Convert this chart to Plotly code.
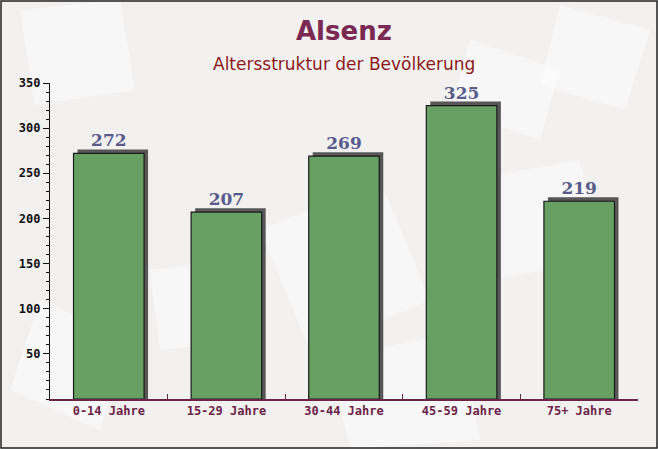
import plotly.graph_objects as go

# Daten
kategorien = ['0-14 Jahre', '15-29 Jahre', '30-44 Jahre', '45-59 Jahre', '75+ Jahre']
einwohner = [272, 207, 269, 325, 219]
y_ticks = [50, 100, 150, 200, 250, 300, 350]

BAR_GREEN = '#67a062'
SHADOW = '#575757'
LABEL_COLOR = '#575c8c'
MAROON = '#6b2447'

# 3D-Effekt: Schatten leicht nach rechts/oben versetzt
dx = 0.034
dy = 4.4

fig = go.Figure()
fig.add_trace(go.Bar(
    x=kategorien, y=[v + dy for v in einwohner],
    width=0.6, offset=-0.3 + dx,
    marker=dict(color=SHADOW, line=dict(width=0)),
    hoverinfo='skip', showlegend=False,
))
fig.add_trace(go.Bar(
    x=kategorien, y=einwohner,
    width=0.6, offset=-0.3,
    marker=dict(color=BAR_GREEN, line=dict(color='#1a1a1a', width=1.2)),
    text=[f'<b>{v}</b>' for v in einwohner],
    textposition='outside', cliponaxis=False,
    textfont=dict(family='DejaVu Serif', size=17, color=LABEL_COLOR),
    showlegend=False,
))

fig.update_layout(
    width=658, height=449,
    barmode='overlay',
    paper_bgcolor='#f3f0f0', plot_bgcolor='rgba(0,0,0,0)',
    margin=dict(l=50, r=20, t=83, b=50),
    font=dict(family='DejaVu Sans Mono'),
)

# dezente Hintergrund-Textur (Briefumschläge angedeutet)
px_w, px_h = 588, 316
def _p(x, y):
    return (x - 50) / px_w, 1 - (y - 83) / px_h

deko = [
    [(20, 10), (120, 0), (135, 90), (35, 105)],
    [(560, 5), (650, 30), (625, 110), (540, 85)],
    [(260, 230), (380, 180), (430, 300), (310, 350)],
    [(150, 270), (240, 260), (250, 340), (160, 350)],
    [(470, 180), (580, 160), (600, 260), (490, 280)],
    [(40, 300), (130, 340), (100, 430), (10, 390)],
    [(330, 360), (460, 330), (480, 440), (350, 449)],
    [(470, 40), (560, 70), (540, 140), (450, 110)],
]
for poly in deko:
    pts = [_p(x, y) for x, y in poly]
    path = 'M ' + ' L '.join(f'{a:.4f},{b:.4f}' for a, b in pts) + ' Z'
    fig.add_shape(type='path', path=path, xref='paper', yref='paper',
                  fillcolor='rgba(255,255,255,0.45)', line=dict(width=0), layer='below')

# Titel und Untertitel
fig.add_annotation(text='<b>Alsenz</b>', xref='paper', yref='paper',
                   x=0.5, y=1 + 52 / 316, xanchor='center', yanchor='middle',
                   showarrow=False,
                   font=dict(family='DejaVu Sans', size=26, color='#7a2a52'))
fig.add_annotation(text='Altersstruktur der Bevölkerung', xref='paper', yref='paper',
                   x=0.5, y=1 + 19 / 316, xanchor='center', yanchor='middle',
                   showarrow=False,
                   font=dict(family='DejaVu Sans', size=17, color='#8b1a1a'))

fig.update_xaxes(
    showline=True, linecolor=MAROON, linewidth=1.5,
    ticks='inside', tickson='boundaries', ticklen=5, tickcolor=MAROON,
    tickfont=dict(family='DejaVu Sans Mono', size=12, color=MAROON, weight='bold'),
    showgrid=False,
)
fig.update_yaxes(
    range=[0, 350], showline=True, linecolor='#111111', linewidth=1.2,
    tickvals=y_ticks, ticks='outside', ticklen=6, tickcolor='#111111',
    minor=dict(dtick=10, ticks='outside', ticklen=3, tickcolor='#111111'),
    tickfont=dict(family='DejaVu Sans Mono', size=12, color='#111111', weight='bold'),
    showgrid=False, zeroline=False,
)

# Rahmen um das Bild
fig.add_shape(type='rect', xref='paper', yref='paper',
              x0=-49 / 588, x1=1 + 19 / 588, y0=-49 / 316, y1=1 + 82 / 316,
              line=dict(color='#222222', width=1.5), layer='below')

fig.write_html('out.html', config={'displayModeBar': False},
               post_script="document.body.style.margin='0';")
